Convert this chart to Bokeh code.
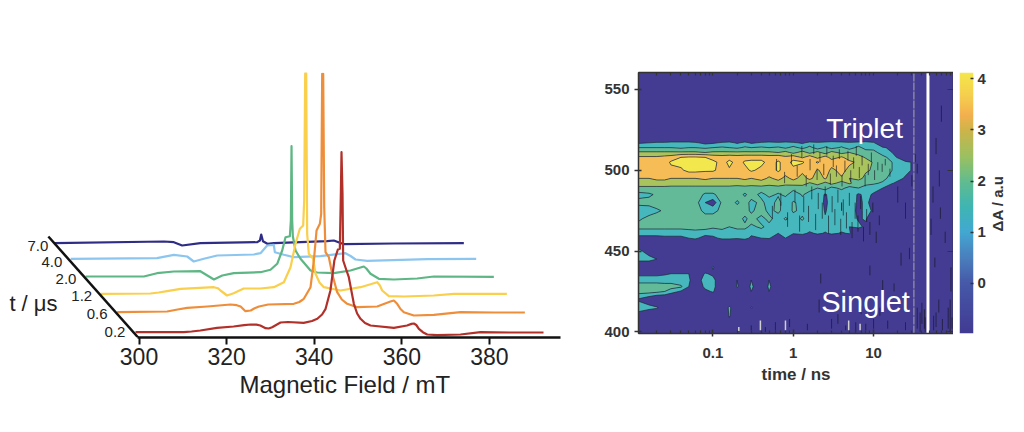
import numpy as np
from bokeh.embed import file_html
from bokeh.resources import INLINE
from bokeh.plotting import figure
from bokeh.layouts import row
from bokeh.models import Range1d, FixedTicker, LinearAxis, LogAxis, LinearColorMapper, Title
from bokeh.core.properties import value

FONT = "Liberation Sans"

# ---------- waterfall spectra: field (mT, as drawn on the axis), signal above own baseline
delays = ["0.2", "0.6", "1.2", "2.0", "4.0", "7.0"]
baseline = [5, 25, 44, 61, 79, 94]
colors = ["#B2302A", "#EE8E3A", "#F9CF4C", "#5DB683", "#8CC6EE", "#2F2C85"]

field_02 = [299.2,310.2,312.0,314.0,317.8,321.6,324.0,325.5,326.8,327.7,328.9,329.6,330.4,331.3,332.3,334.0,337.6,339.5,340.7,341.8,342.6,343.7,344.6,345.4,345.85,346.08,346.23,346.46,346.61,347.37,347.9,349.05,349.8,350.57,351.6,352.85,358.18,361.2,362.2,362.75,363.3,363.9,364.8,365.8,368.07,373.4,377.97,384.8,392.35]
signal_02 = [0.3,0.3,1,2,4.7,6,7.3,8,7.8,7,4.3,4,5.3,7.5,10,10.5,9.7,11.5,13.7,18,23.7,42,72,83,83.7,138.7,180.3,138.7,72,62,55.3,28.7,19,13.7,9.5,7,4.7,7,8.6,9,7.5,3.7,0.3,-2,-2.7,-2,0.3,0,0]

field_06 = [295.0,306.4,308.8,311.0,315.6,320.9,322.3,323.2,324.3,325.5,326.4,327.4,329.5,335.35,336.6,337.63,339.16,339.92,340.53,341.29,341.59,341.82,342.05,342.28,342.58,343.34,344.1,345.24,346.3,347.53,349.81,354.38,357.4,358.18,358.94,359.7,360.46,362.75,367.31,373.4,381.0,388.09]
signal_06 = [0.3,1,3,4.7,6,8,7.3,6,1.3,2,4.2,6,8,8.7,10.5,13.7,25.3,52,82,88.7,98.7,238.7,238.7,105.3,60.3,55.3,38.7,20.3,13,8.7,5.3,6,11,12,8.7,3.5,0.3,-3,-2.3,0.3,0,0]

field_12 = [291.2,302.6,304.5,306.4,309.5,317.1,318.0,318.6,320.1,321.6,323.9,327.74,330.78,333.07,334.59,335.73,336.72,337.48,337.71,337.94,338.17,338.39,338.77,339.76,340.3,341.2,342.2,346.0,350.57,354.38,355.0,355.52,357.04,360.46,367.31,371.88,383.98]
signal_12 = [-0.3,0,1,2.3,4.7,6.3,5.3,3,-2,0.3,5,5,6.3,11.3,26.3,49.7,64.7,68,93,220.3,220.3,59.7,39.7,34.7,19.7,11,6.3,3,6.3,11.3,8,3,-2.7,-3,-2,-0.3,-0.3]

field_20 = [287.8,301.1,304.1,307.95,314.0,315.6,317.1,319.0,321.65,327.74,330.02,331.55,332.69,333.45,334.44,334.67,334.82,334.97,335.12,335.73,336.87,339.16,340.68,344.48,348.29,351.33,351.9,352.85,354.76,358.18,363.5,367.31,381.01]
signal_20 = [0,0,3.3,5,5.3,1,-3,1,3.3,4.3,6.7,12.7,26,39.3,40.3,56,130.3,56,40.3,26,17.7,6,4,3.3,6,10,8,2.7,-2.3,-3,-2,0,-0.3]

field_40 = [284.4,304.1,307.95,311.0,312.5,314.8,317.85,326.2,327.74,329.26,330.78,331.01,333.07,335.35,341.44,347.15,348.3,349.43,352.09,365.8,376.98]
signal_40 = [-0.3,0.3,3.7,2,-3,-0.3,3,4,5.3,13,13.7,6.3,3.7,1.3,2.3,5.3,2.5,-1,-2.3,-0.7,-0.3]

field_70 = [280.6,305.7,307.95,309.85,314.0,327.0,327.6,327.9,328.3,329.3,330.78,342.96,344.48,346.77,358.18,374.16]
signal_70 = [0.3,2,1.3,-2,0.3,1.3,3,9,2.3,-0.3,0.3,2.3,3,-0.7,0,0.3]

fields = [field_02, field_06, field_12, field_20, field_40, field_70]
signals = [signal_02, signal_06, signal_12, signal_20, signal_40, signal_70]

field_ticks = [300, 320, 340, 360, 380]
label_field = [296.9, 292.8, 289.3, 285.7, 282.5, 279.3]
label_height = [6, 24, 42, 59, 76, 92]
time_axis_field = [279.3, 299.8]
time_axis_height = [101, 0]

# ---------- transient absorption map, values in tenths of dA
times = [0.0118,0.016,0.02,0.025,0.03,0.04,0.05,0.06,0.08,0.1,0.13,0.16,0.2,0.25,0.3,0.4,0.5,0.65,0.8,1,1.3,1.6,2,2.5,3,4,5,6.5,8,10,13,17,25,50,99]
wavelengths = [399,410,415,420,425,428,432,436,440,445,450,455,458,461,465,470,475,480,485,489,492,495,500,505,508,511,514,517,520,561]
Z = [0]*35
tenths = [
 Z,
 [6,0,0,0,0, 0,0,0,0,0, 0,11,0,0,0, 0,0,0,0,0, 0,0,0,0,0, 0,0,0,0,0, 0,0,0,0,0],
 [14,13,11,5,0, 0,0,0,0,0, 0,12,0,0,11, 0,0,0,0,0, 0,0,0,0,0, 0,0,0,0,0, 0,0,0,0,0],
 [9,4,0,0,0, 0,0,0,0,0, 0,0,0,0,0, 0,0,0,0,0, 0,0,0,0,0, 0,0,0,0,0, 0,0,0,0,0],
 [20,20,19,17,13, 9,0,0,8,11, 0,0,0,0,10, 0,10,0,0,0, 0,0,0,0,0, 0,0,0,0,0, 0,0,0,0,0],
 [21,21,21,20,20, 18,10,3,12,13, 0,0,11,3,12, 0,12,0,0,0, 0,0,0,0,0, 0,0,0,0,0, 0,0,0,0,0],
 [14,14,14,14,14, 13,11,6,13,13, 0,0,10,0,10, 0,10,0,0,0, 0,0,0,0,0, 0,0,0,0,0, 0,0,0,0,0],
 [8,8,8,9,10, 10,10,2,11,8, 0,0,0,0,0, 0,0,0,0,0, 0,0,0,0,0, 0,0,0,0,0, 0,0,0,0,0],
 [0,0,0,0,0, 0,0,0,0,11, 0,0,0,0,0, 0,0,0,0,0, 0,0,0,0,0, 0,0,0,0,0, 0,0,0,0,0],
 [13,13,10,3,0, 0,0,0,0,0, 0,0,0,0,0, 0,0,0,0,0, 0,0,0,0,0, 0,0,0,0,0, 0,0,0,0,0],
 [12,6,0,0,0, 0,10,0,0,0, 0,0,0,0,0, 0,0,0,0,0, 0,0,0,0,0, 0,0,0,0,0, 0,0,0,0,0],
 [5,0,0,0,0, 0,0,0,10,0, 0,0,0,0,0, 0,0,0,0,0, 0,0,0,0,0, 0,0,0,0,0, 0,0,0,0,0],
 [7,7,7,8,8, 8,10,12,5,8, 12,12,11,13,8, 10,11,0,10,0, 0,0,0,0,0, 0,0,0,0,0, 0,0,0,0,0],
 [13,13,13,13,13, 13,13,14,14,13, 14,14,13,15,12, 14,14,10,13,11, 13,8,12,9,12, 9,11,0,7,0, 0,0,0,0,0],
 [19,19,19,19,19, 19,20,20,19,18, 19,17,19,18,16, 18,15,17,12,16, 13,16,12,14,11, 14,10,12,8,0, 0,0,0,0,0],
 [16,19,20,20,20, 20,20,21,20,20, 19,20,19,16,19, 15,19,13,18,14, 18,12,16,11,15, 11,14,9,11,0, 0,0,0,0,0],
 [13,14,16,18,19, 20,20,20,15,15, 19,20,20,19,16, 20,15,19,12,18, 15,12,17,9,15, 10,14,8,12,9, 0,0,0,0,0],
 [19,19,20,20,20, 20,20,20,10,6, 19,20,16,20,15, 19,13,20,11,18, 14,11,16,8,14, 10,13,9,11,8, 0,0,0,0,0],
 [15,16,18,19,20, 20,20,20,16,16, 20,17,20,16,20, 15,19,16,19,12, 18,13,15,9,14, 11,14,9,12,9, 0,0,0,0,0],
 [21,21,21,21,21, 21,21,21,21,21, 21,21,20,21,20, 21,19,21,18,20, 18,21,17,20,15, 19,14,17,11,13, 10,0,0,0,0],
 [27,27,27,27,26, 26,26,26,26,26, 26,26,26,26,26, 26,26,26,26,25, 27,22,26,21,25, 20,24,19,21,18, 16,11,0,0,0],
 [29,29,30,30,29, 29,29,29,30,29, 29,29,29,30,29, 31,28,31,27,31, 26,31,25,30,24, 28,23,25,21,21, 19,14,9,0,0],
 [35,34,34,34,34, 35,38,38,37,37, 33,35,33,34,37, 34,33,37,33,34, 31,35,28,33,27, 32,26,27,24,22, 21,17,12,0,0],
 [33,33,33,33,37, 38,39,39,38,38, 33,38,33,37,38, 38,33,37,33,38, 37,32,37,31,33, 33,31,27,27,22, 21,17,12,0,0],
 [30,30,30,31,32, 36,37,37,36,33, 32,33,32,33,33, 33,32,33,30,33, 28,33,27,32,26, 30,25,26,22,21, 19,14,0,0,0],
 [24,24,24,24,24, 24,24,24,23,24, 24,24,24,24,24, 24,24,23,25,21, 26,21,25,20,25, 21,23,20,21,19, 14,10,0,0,0],
 [17,17,17,17,17, 16,17,17,16,17, 18,17,16,18,17, 18,17,18,16,19, 15,19,14,18,15, 18,14,19,14,15, 11,8,0,0,0],
 [9,10,11,11,12, 12,12,11,8,9, 11,12,9,12,9, 11,12,11,12,11, 9,12,11,12,13, 12,11,12,13,11, 0,0,0,0,0],
 Z,
 Z,
]
levels = [-1.0, 1.0, 1.7, 2.3, 2.9, 3.6, 4.3]
fills = ["#433C92", "#46B7BC", "#62BA99", "#A9C45C", "#F6BC56", "#F2E84E"]

speck_time = [0.3,0.45,0.6,0.9,1.5,2.1,2.2,3,3.6,4.5,6,7,8,9,10,12,13,15,18,22,25,28,35,38,40,43,44,52,56,58,60,65,68,72,78,85,90,92,95,70,60,66,55,25,20,35,30,33,
              0.55,0.7,0.85,1.05,1.2,1.35,1.55,1.7,1.9,2.05,2.3,2.5,2.75,3.05,3.3,3.6,3.9,4.2,4.6,5,5.4,5.9,6.4,6.9,7.5,8.2,9,9.8,10.8,11.8,
              0.62,0.78,0.95,1.12,1.28,1.45,1.62,1.8,1.98,2.15,2.4,2.62,2.9,3.15,3.45,3.75,4.05,4.4,4.8,5.2,5.65,6.1,6.65,7.2,7.85,8.6,9.4,10.3,11.3,12.8,14,16]
speck_low = [401,400,401,403,401,412,430,402,405,401,400,411,401,435,402,410,426,402,425,441,401,445,402,400,405,402,400,460,401,440,403,412,470,401,455,402,400,425,402,530,510,490,480,470,480,498,490,505,
             470,478,465,480,462,474,468,482,463,476,470,484,461,474,466,480,460,472,464,478,458,470,462,476,456,468,460,474,455,466,
             500,492,504,496,508,490,500,510,494,505,497,509,491,502,496,507,490,499,506,493,501,509,495,503,490,497,505,494,500,499,503,496]
speck_high = [404,403,406,408,405,420,436,408,411,404,406,416,405,441,408,415,432,407,430,449,406,452,415,412,418,414,409,470,410,446,412,420,477,408,462,415,420,440,409,540,520,500,490,480,490,504,497,510,
              478,486,474,488,472,484,478,490,473,486,480,490,472,484,476,488,470,482,474,486,468,480,472,484,465,476,468,480,462,472,
              507,499,510,503,515,497,507,516,501,511,504,515,498,509,503,513,497,506,512,500,508,515,502,509,497,504,511,500,505,504,507,501]
bright_time = [0.21,0.39,0.8,4.9,6.8]
bright_low = [400.5,401,401,401,401]
bright_high = [403,407,407,407,405]
white_gap_time = 47.6
grey_gap_time = 31.8

time_ticks = [0.1, 1, 10]
time_minor = [0.02,0.03,0.04,0.05,0.06,0.07,0.08,0.09,0.2,0.3,0.4,0.5,0.6,0.7,0.8,0.9,2,3,4,5,6,7,8,9,20,30,40,50,60,70,80,90]
wave_ticks = [400, 450, 500, 550]
bar_ticks = [0, 1, 2, 3, 4]
bar_stops = [-1.0, 0.0, 0.5, 1.0, 1.5, 2.0, 2.5, 3.0, 3.3, 3.7, 4.13]
bar_colors = ["#413A92","#4659A8","#4A7FBE","#42A8D2","#3FB5B2","#62BC8E","#9CC060","#CDB44A","#F2B04E","#F5D04E","#F4E84A"]

# ---------- left panel
left = figure(frame_width=582, frame_height=265, x_range=Range1d(270.2, 403.08), y_range=Range1d(0, 265),
              y_axis_location=None, toolbar_location=None, output_backend="svg",
              min_border_left=8, min_border_right=0, min_border_top=72, min_border_bottom=90)
left.outline_line_color = None
left.grid.visible = False
ax = left.xaxis[0]
ax.ticker = FixedTicker(ticks=field_ticks)
ax.bounds = (299.7, 396.2)
ax.major_label_text_font = FONT
ax.major_label_text_font_size = "23px"
ax.major_label_text_color = "#222222"
ax.major_label_standoff = 3
ax.axis_line_width = 2.5
ax.axis_line_color = "#111111"
ax.major_tick_line_width = 2
ax.major_tick_line_color = "#111111"
ax.major_tick_in = 0
ax.major_tick_out = 7
ax.minor_tick_line_color = None
left.add_layout(Title(text="Magnetic Field / mT", align="left", offset=231, text_font=FONT, text_font_size="24px",
                      text_font_style="normal", text_color="#222222", standoff=2), "below")

for i in reversed(range(len(delays))):
    left.line(fields[i], np.array(signals[i]) + baseline[i], line_color=colors[i], line_width=2.2, line_join="round")
left.line(time_axis_field, time_axis_height, line_color="#111111", line_width=2.5)
left.text(label_field, label_height, text=delays, text_align="right", text_baseline="middle",
          text_font=value(FONT), text_font_size="15px", text_color="#222222")
left.text([270.4], [34], text=["t / \u03bcs"], text_align="left", text_baseline="middle",
          text_font=value(FONT), text_font_size="22px", text_color="#222222")

# ---------- heat map
heat = figure(frame_width=315, frame_height=261, x_axis_type="log",
              x_range=Range1d(0.01183, 99), y_range=Range1d(399, 560.5),
              toolbar_location=None, output_backend="svg",
              min_border_left=48, min_border_right=0, min_border_top=72, min_border_bottom=90)
heat.grid.visible = False
heat.outline_line_color = "#333333"
heat.background_fill_color = fills[0]
dA = np.array(tenths, dtype=float) / 10
heat.contour(times, wavelengths, dA, levels=levels, fill_color=fills, line_color="#1c2a33", line_width=0.7)
heat.segment(speck_time, speck_low, speck_time, speck_high, line_color="#15151f", line_width=0.9, line_alpha=0.7)
heat.segment(bright_time, bright_low, bright_time, bright_high, line_color="#d0d0d0", line_width=1.5)
heat.segment([grey_gap_time], [399], [grey_gap_time], [560.5], line_color="#9a9aa5", line_width=1.2, line_dash="8 1")
heat.segment([white_gap_time], [399], [white_gap_time], [560.5], line_color="#ffffff", line_width=3)
heat.text([2.57], [526], text=["Triplet"], text_font=value(FONT), text_font_size="28px", text_color="#ffffff",
          text_baseline="alphabetic")
heat.text([2.23], [418.5], text=["Singlet"], text_font=value(FONT), text_font_size="29px", text_color="#ffffff",
          text_baseline="alphabetic")

def style(a):
    a.axis_line_color = "#333333"
    a.axis_line_width = 1.5
    a.major_tick_line_color = "#333333"
    a.minor_tick_line_color = "#333333"
    a.major_tick_line_width = 1.5
    a.minor_tick_line_width = 1.2
    a.major_label_text_font = FONT
    a.major_label_text_font_style = "bold"
    a.major_label_text_color = "#333333"
    a.axis_label_text_font = FONT
    a.axis_label_text_font_style = "bold"
    a.axis_label_text_color = "#333333"

bx = heat.xaxis[0]
style(bx)
bx.ticker = FixedTicker(ticks=time_ticks, minor_ticks=time_minor)
bx.major_label_overrides = {0.1: "0.1", 1: "1", 10: "10"}
bx.major_label_text_font_size = "15px"
bx.major_label_standoff = 11
bx.axis_label = "time / ns"
bx.axis_label_text_font_size = "17px"
bx.axis_label_standoff = 4
bx.major_tick_in = 4
bx.major_tick_out = 3
bx.minor_tick_in = 3
bx.minor_tick_out = 0

ly = heat.yaxis[0]
style(ly)
ly.ticker = FixedTicker(ticks=wave_ticks)
ly.major_label_text_font_size = "15px"
ly.major_label_standoff = 5
ly.major_tick_in = 3
ly.major_tick_out = 4
ly.minor_tick_line_color = None

tx = LogAxis(ticker=FixedTicker(ticks=[], minor_ticks=time_ticks + time_minor))
style(tx)
tx.minor_tick_in = 3
tx.minor_tick_out = 0
heat.add_layout(tx, "above")
ry = LinearAxis(ticker=FixedTicker(ticks=[], minor_ticks=wave_ticks))
style(ry)
ry.minor_tick_in = 6
ry.minor_tick_out = 0
heat.add_layout(ry, "right")

# ---------- colour bar
bar_low, bar_high = -0.986, 4.125
grad = np.linspace(bar_low, bar_high, 256)
rgb = np.array([[int(c[j:j+2], 16) for j in (1, 3, 5)] for c in bar_colors], dtype=float)
palette = ["#%02x%02x%02x" % tuple(int(round(np.interp(g, bar_stops, rgb[:, k]))) for k in range(3)) for g in grad]
bar = figure(frame_width=14, frame_height=261, x_range=Range1d(0, 1), y_range=Range1d(bar_low, bar_high),
             x_axis_location=None, y_axis_location="right", toolbar_location=None, output_backend="svg",
             min_border_left=6, min_border_right=17, min_border_top=72, min_border_bottom=90)
bar.grid.visible = False
bar.outline_line_color = None
bar.image(image=[grad[:, None]], x=0, y=bar_low, dw=1, dh=bar_high - bar_low,
          color_mapper=LinearColorMapper(palette=palette, low=bar_low, high=bar_high))
by = bar.yaxis[0]
style(by)
by.axis_line_color = None
by.ticker = FixedTicker(ticks=bar_ticks)
by.major_label_text_font_size = "15px"
by.major_label_standoff = 4
by.major_tick_in = 3
by.major_tick_out = 0
by.minor_tick_line_color = None

# colour bar title in a narrow strip of its own, so it can read upwards and stay centred
strip = figure(frame_width=24, frame_height=261, x_range=Range1d(0, 24), y_range=Range1d(0, 261),
               x_axis_location=None, y_axis_location=None, toolbar_location=None, output_backend="svg",
               min_border_left=0, min_border_right=0, min_border_top=72, min_border_bottom=90)
strip.grid.visible = False
strip.outline_line_color = None
strip.text([7], [130], text=["\u0394A / a.u"], angle=1.5708, text_align="center", text_baseline="middle",
           text_font=value(FONT), text_font_size="15px", text_font_style="bold", text_color="#333333")

page = row(left, heat, bar, strip, spacing=0)
open("out.html", "w").write(file_html(page, INLINE))
